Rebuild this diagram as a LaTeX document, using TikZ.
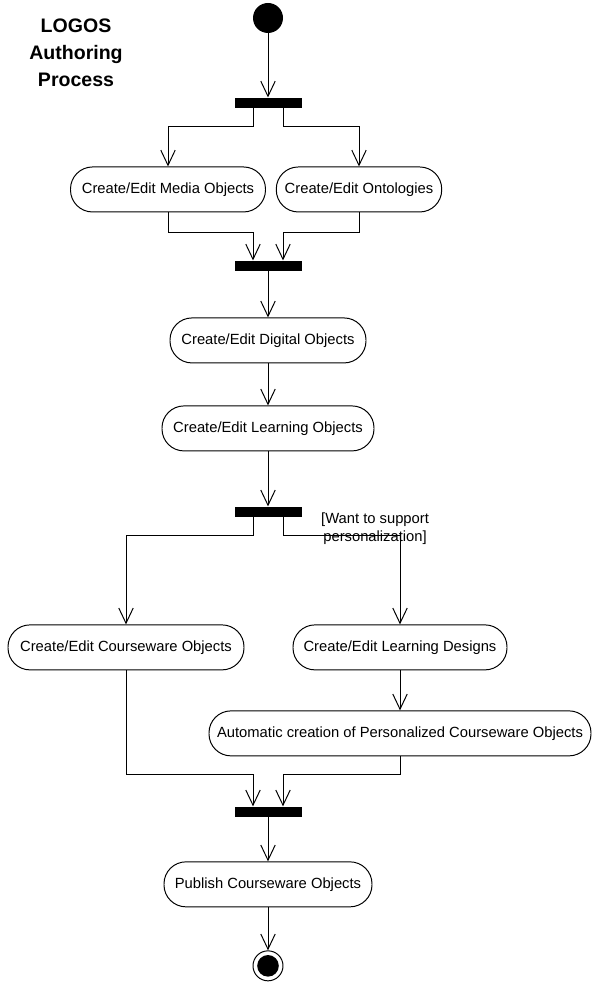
\documentclass[tikz,border=0pt]{standalone}
\usepackage{fontspec}
\setmainfont{Liberation Sans}
\usetikzlibrary{arrows.meta, positioning}

\begin{document}
\begin{tikzpicture}[
  node distance=1.2cm,
  every path/.style={line width=0.7pt},
  act/.style={draw, rounded corners=0.55cm, minimum height=1.125cm,
              minimum width=#1, inner xsep=6pt,
              font=\fontsize{10.5}{12}\selectfont},
  act/.default=4cm,
  bar/.style={fill=black, minimum width=1.675cm, minimum height=0.25cm,
              inner sep=0pt},
  initial/.style={circle, fill=black, minimum size=0.75cm, inner sep=0pt},
  final/.style={circle, draw, minimum size=0.75cm, inner sep=0pt,
                path picture={\fill (path picture bounding box.center) circle (0.27cm);}},
  arr/.style={-{Straight Barb[length=0.38cm, width=0.36cm]}},
  note/.style={font=\fontsize{10.5}{12.5}\selectfont, align=center}
]
  \useasboundingbox (-6.7,0.45) rectangle (8.075,-24.125);

  % title
  \node[font=\fontsize{13.9}{19.2}\selectfont\bfseries, align=center] (title)
    at (-4.8,-0.875) {LOGOS\\Authoring\\Process};

  % first fork
  \node[initial] (start) at (0,0) {};
  \node[bar, below=1.6cm of start] (fork1) {};
  \node[act=4.875cm, below=1.45cm of fork1, xshift=-2.5cm] (media) {Create/Edit Media Objects};
  \node[act=4.05cm, below=1.45cm of fork1, xshift=2.275cm] (onto) {Create/Edit Ontologies};
  \node[bar, below=1.2cm of media.south -| fork1] (join1) {};

  % main column
  \node[act=4.9cm, below=1.15cm of join1] (digital) {Create/Edit Digital Objects};
  \node[act=5.3cm, below=1.05cm of digital] (learning) {Create/Edit Learning Objects};
  \node[bar, below=1.375cm of learning] (fork2) {};
  \node[note, right=0.35cm of fork2, yshift=-0.42cm] (guard) {[Want to support\\personalization]};

  % second fork
  \node[act=5.9cm, below=2.675cm of fork2, xshift=-3.55cm] (course) {Create/Edit Courseware Objects};
  \node[act=5.35cm, below=2.675cm of fork2, xshift=3.3cm] (design) {Create/Edit Learning Designs};
  \node[act=9.55cm, below=1.0cm of design, inner xsep=2pt] (auto) {Automatic creation of Personalized Courseware Objects};
  \coordinate[below=0.45cm of auto] (merge);
  \node[bar, below=1.25cm of auto.south -| fork2] (join2) {};
  \node[act=5.2cm, below=1.1cm of join2] (publish) {Publish Courseware Objects};
  \node[final, below=1.075cm of publish] (stop) {};

  \draw[arr] (start) -- (fork1);
  \draw[arr] ([xshift=-0.375cm]fork1.south) -- ++(0,-0.45) -| (media.north);
  \draw[arr] ([xshift=0.375cm]fork1.south) -- ++(0,-0.45) -| (onto.north);
  \draw[arr] (media.south) -- ++(0,-0.5) -| ([xshift=-0.375cm]join1.north);
  \draw[arr] (onto.south) -- ++(0,-0.5) -| ([xshift=0.375cm]join1.north);
  \draw[arr] (join1) -- (digital);
  \draw[arr] (digital) -- (learning);
  \draw[arr] (learning) -- (fork2);
  \draw[arr] ([xshift=-0.375cm]fork2.south) -- ++(0,-0.45) -| (course.north);
  \draw[arr] ([xshift=0.375cm]fork2.south) -- ++(0,-0.45) -| (design.north);
  \draw[arr] (design) -- (auto);
  \draw[arr] (course.south) -- (course.south |- merge) -| ([xshift=-0.375cm]join2.north);
  \draw[arr] (auto.south) -- (merge) -| ([xshift=0.375cm]join2.north);
  \draw[arr] (join2) -- (publish);
  \draw[arr] (publish) -- (stop);
\end{tikzpicture}
\end{document}
